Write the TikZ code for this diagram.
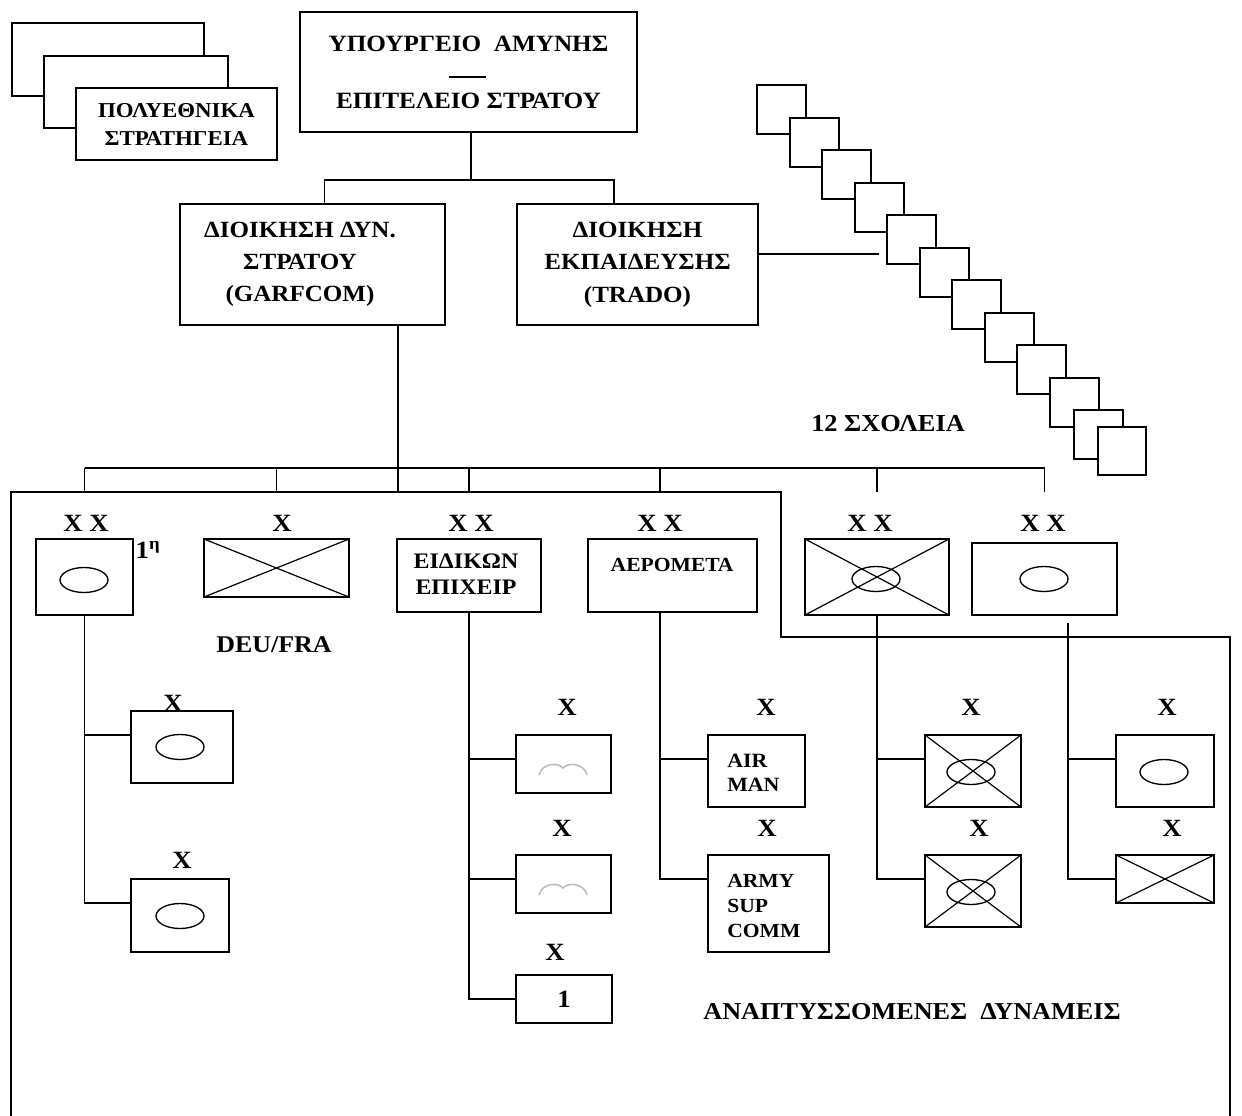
\documentclass[tikz,border=0pt]{standalone}
\usepackage{fontspec}
\setmainfont[FakeStretch=1.08]{Liberation Serif}
\usetikzlibrary{shapes.geometric}

\tikzset{
  box/.style={draw, fill=white, line width=1.2pt, inner sep=0pt},
  sz/.style 2 args={minimum width=#1*0.75pt, minimum height=#2*0.75pt},
  crossed/.style={path picture={\draw[line width=0.9pt] (path picture bounding box.north west) -- (path picture bounding box.south east) (path picture bounding box.south west) -- (path picture bounding box.north east);}},
  oval/.style={draw, ellipse, line width=1pt, minimum width=36pt, minimum height=18.75pt, inner sep=0pt},
  lbl/.style={font=\fontsize{18.6}{20}\selectfont\bfseries, inner sep=0.75pt},
  txt/.style={font=\fontsize{16}{20}\selectfont\bfseries, align=center, inner sep=0.75pt},
  wire/.style={line width=1.2pt},
  wings/.pic={\draw[gray!55, line width=1.1pt] (-24,-7) .. controls (-21,5) and (-5,6) .. (0,0) .. controls (5,6) and (21,5) .. (24,-7);},
}

\begin{document}
\begin{tikzpicture}[x=0.75pt,y=0.75pt,yscale=-1,xscale=1]
\useasboundingbox (0,0) rectangle (1242,1115);

\node[box,sz={192}{73}] (poly1) at (108,59.5) {};
\node[box,sz={184}{72}] (poly2) at (136,92) {};
\node[box,sz={201}{72},txt,font=\fontsize{15.9}{21}\selectfont\bfseries] (poly3) at (176.5,124) {ΠΟΛΥΕΘΝΙΚΑ\\ΣΤΡΑΤΗΓΕΙΑ};

\node[box,sz={337}{120},txt,font=\fontsize{17.5}{21}\selectfont\bfseries] (ministry) at (468.5,72) {ΥΠΟΥΡΓΕΙΟ\ \ ΑΜΥΝΗΣ\\[21.75pt]ΕΠΙΤΕΛΕΙΟ ΣΤΡΑΤΟΥ};
\draw[wire] ([shift={(-19.5,5)}]ministry.center) -- ++(37,0);

\node[box,sz={265}{121}] (garf) at (312.5,264.5) {};
\node[txt,font=\fontsize{17.4}{24}\selectfont\bfseries] (garf-t) at (300,264) {ΔΙΟΙΚΗΣΗ ΔΥΝ.\\ΣΤΡΑΤΟΥ\\(GARFCOM)};
\node[box,sz={241}{121},txt,font=\fontsize{17.4}{24.5}\selectfont\bfseries] (trado) at (637.5,264.5) {ΔΙΟΙΚΗΣΗ\\ΕΚΠΑΙΔΕΥΣΗΣ\\(TRADO)};

\coordinate (tbus) at (471,180);
\path (garf.north) ++(12,0) coordinate (garf-in);
\path (trado.north) ++(-23.5,0) coordinate (trado-in);
\draw[wire] (tbus |- ministry.south) -- (tbus);
\draw[wire] (garf-in) -- (garf-in |- tbus) -- (trado-in |- tbus) -- (trado-in);

% schools
\foreach \i/\p in {0/0,1/33,2/65,3/98,4/130,5/163,6/195,7/228,8/260,9/293}
  \node[box,sz={49}{49},anchor=north west] (sch\i) at (756+\p,84+\p) {};
\node[box,sz={49}{49},anchor=north west] (sch10) at (1073,409) {};
\node[box,sz={48}{48},anchor=north west] (sch11) at (1097,426) {};
\coordinate (sch-end) at (879,254);
\draw[wire] (trado.east |- sch-end) -- (sch-end);
\node[lbl,font=\fontsize{18.3}{20}\selectfont\bfseries] (schools) at (888,424) {12 ΣΧΟΛΕΙΑ};

% divisions
\node[box,sz={97}{76}] (div1) at (84.5,577) {};
\node[oval] (div1-o) at (84,580) {};
\node[box,sz={145}{58},crossed] (bde) at (276.5,568) {};
\node[box,sz={144}{73}] (sof) at (469,575.5) {};
\node[txt,font=\fontsize{16.6}{19.5}\selectfont\bfseries] (sof-t) at (466,574) {ΕΙΔΙΚΩΝ\\ΕΠΙΧΕΙΡ};
\node[box,sz={169}{73}] (aero) at (672.5,575.5) {};
\node[txt,font=\fontsize{15}{20}\selectfont\bfseries] (aero-t) at (672,565) {ΑΕΡΟΜΕΤΑ};
\node[box,sz={144}{76},crossed] (mech) at (877,577) {};
\node[oval] (mech-o) at (876,579) {};
\node[box,sz={145}{72}] (inf) at (1044.5,579) {};
\node[oval] (inf-o) at (1044,579) {};

\node[lbl] (div1-x) at (86,523) {X X};
\node[lbl] (bde-x) at (282,523) {X};
\node[lbl] (sof-x) at (471,523) {X X};
\node[lbl] (aero-x) at (660,523) {X X};
\node[lbl] (mech-x) at (870,523) {X X};
\node[lbl] (inf-x) at (1043,523) {X X};
\node[lbl] (div1-n) at (148,550) {1\textsuperscript{η}};
\node[lbl,font=\fontsize{18}{20}\selectfont\bfseries] (bde-n) at (274,645) {DEU/FRA};

\path (garf.south) ++(85.5,0) coordinate (garf-out);
\coordinate (bus) at (398,468);
\coordinate (ftop) at (398,492);
\draw[wire] (garf-out) -- (garf-out |- ftop);
\draw[wire] (div1.north |- bus) -- (inf.north |- bus);
\path (aero.south) ++(-12.5,0) coordinate (aero-out);
\foreach \u in {div1.north,bde.north,sof.north,aero-out,mech.north,inf.north}
  \draw[wire] (\u |- bus) -- (\u |- ftop);

\draw[wire] (11,1116) -- (11,492) -- (781,492) -- (781,637) -- (1230,637) -- (1230,1116);

% brigades
\node[box,sz={102}{72}] (a1) at (182,747) {};
\node[oval] (a1-o) at (180,747) {};
\node[box,sz={98}{73}] (a2) at (180,915.5) {};
\node[oval] (a2-o) at (180,916) {};
\node[box,sz={95}{58}] (c1) at (563.5,764) {};
\pic at (563,768) {wings};
\node[box,sz={95}{58}] (c2) at (563.5,884) {};
\pic at (563,888) {wings};
\node[box,sz={96}{48},lbl] (c3) at (564,999) {1};
\node[box,sz={97}{72}] (d1) at (756.5,771) {};
\node[txt,font=\fontsize{15.2}{18}\selectfont\bfseries,anchor=west,align=left] (d1-t) at (726,773) {AIR\\MAN};
\node[box,sz={121}{97}] (d2) at (768.5,903.5) {};
\node[txt,font=\fontsize{15}{18.5}\selectfont\bfseries,anchor=west,align=left] (d2-t) at (726,906) {ARMY\\SUP\\COMM};
\node[box,sz={96}{72},crossed] (e1) at (973,771) {};
\node[oval] (e1-o) at (971,772) {};
\node[box,sz={96}{72},crossed] (e2) at (973,891) {};
\node[oval] (e2-o) at (971,892) {};
\node[box,sz={98}{72}] (f1) at (1165,771) {};
\node[oval] (f1-o) at (1164,772) {};
\node[box,sz={98}{48},crossed] (f2) at (1165,879) {};

\node[lbl] (a1-x) at (173,703) {X};
\node[lbl] (a2-x) at (182,860) {X};
\node[lbl] (c1-x) at (567,707) {X};
\node[lbl] (c2-x) at (562,828) {X};
\node[lbl] (c3-x) at (555,952) {X};
\node[lbl] (d1-x) at (766,707) {X};
\node[lbl] (d2-x) at (767,828) {X};
\node[lbl] (e1-x) at (971,707) {X};
\node[lbl] (e2-x) at (979,828) {X};
\node[lbl] (f1-x) at (1167,707) {X};
\node[lbl] (f2-x) at (1172,828) {X};

\coordinate (a1-in) at (131,735);
\coordinate (a2-in) at (131,903);
\coordinate (c1-in) at (516,759);
\coordinate (c2-in) at (516,879);
\coordinate (d1-in) at (708,759);
\coordinate (d2-in) at (708,879);
\coordinate (e1-in) at (925,759);
\coordinate (e2-in) at (925,879);
\coordinate (f1-in) at (1116,759);
\coordinate (inf-out) at (1068,623);
\draw[wire] (div1.south) |- (a2-in);
\draw[wire] (div1.south |- a1-in) -- (a1-in);
\draw[wire] (sof.south) |- (c3.west);
\draw[wire] (sof.south |- c1-in) -- (c1-in);
\draw[wire] (sof.south |- c2-in) -- (c2-in);
\draw[wire] (aero-out) |- (d2-in);
\draw[wire] (aero-out |- d1-in) -- (d1-in);
\draw[wire] (mech.south) |- (e2-in);
\draw[wire] (mech.south |- e1-in) -- (e1-in);
\draw[wire] (inf-out) |- (f2.west);
\draw[wire] (inf-out |- f1-in) -- (f1-in);

\node[lbl,font=\fontsize{18.2}{20}\selectfont\bfseries] (forces) at (912,1012) {ΑΝΑΠΤΥΣΣΟΜΕΝΕΣ\ \ ΔΥΝΑΜΕΙΣ};
\end{tikzpicture}
\end{document}
